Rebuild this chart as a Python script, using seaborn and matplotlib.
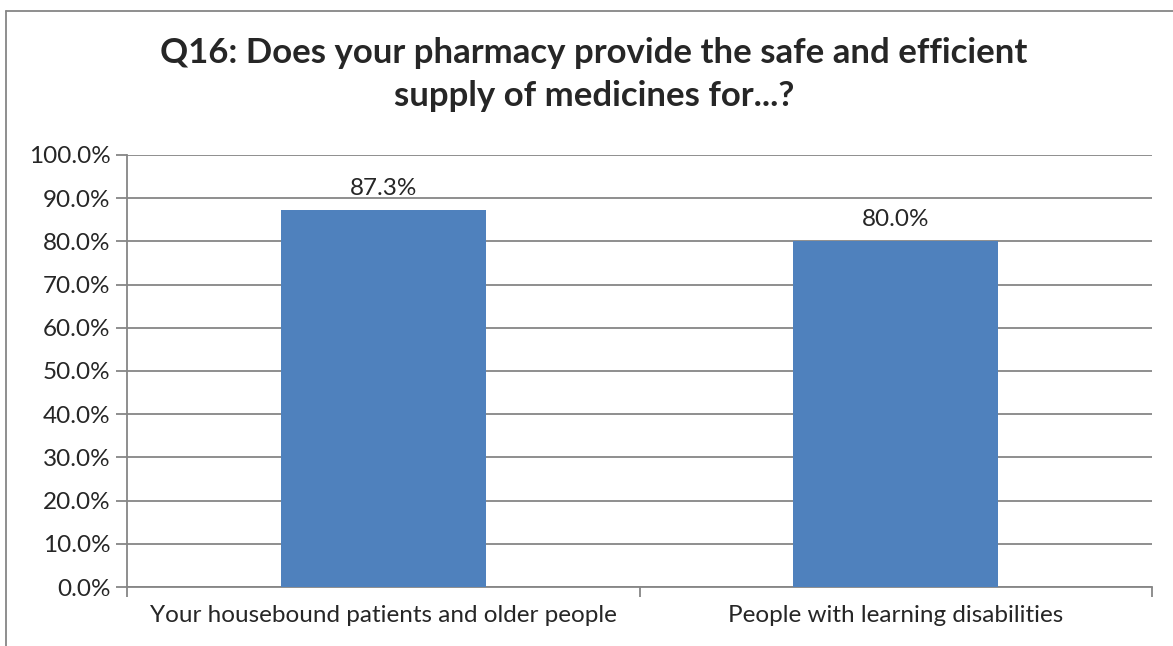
import numpy as np
import pandas as pd
import seaborn as sns
import matplotlib.pyplot as plt
from matplotlib.lines import Line2D
from matplotlib.ticker import FuncFormatter, FixedLocator

groups = ['Your housebound patients and older people', 'People with learning disabilities']
pct = [87.3, 80.0]
yticks = [0, 10, 20, 30, 40, 50, 60, 70, 80, 90, 100]
title = 'Q16: Does your pharmacy provide the safe and efficient\nsupply of medicines for...?'

df = pd.DataFrame({'group': groups, 'pct': pct})

sns.set_style("white")
plt.rcParams['font.family'] = ['Lato', 'DejaVu Sans']

fig = plt.figure(figsize=(11.73, 6.46), dpi=100)
ax = fig.add_axes([0.1083, 0.0913, 0.8738, 0.6688])

sns.barplot(data=df, x='group', y='pct', color='#4F81BD', width=0.4, saturation=1,
            linewidth=0, ax=ax, zorder=3)

ax.set_ylim(0, 100)
ax.set_xlim(-0.5, 1.5)
ax.set_yticks(yticks)
ax.yaxis.set_major_formatter(FuncFormatter(lambda v, p: f'{v:.1f}%'))
ax.yaxis.grid(True, color='#868686', linewidth=1.3, zorder=0)
ax.set_axisbelow(True)
ax.tick_params(axis='y', length=8, width=1.3, color='#868686', labelsize=17.5, pad=4, left=True)
ax.tick_params(axis='x', which='major', length=0, labelsize=17.5, pad=13)
ax.xaxis.set_minor_locator(FixedLocator([-0.5, 0.5, 1.5]))
ax.tick_params(axis='x', which='minor', length=7, width=1.3, color='#868686', bottom=True)
ax.set_xlabel('')
ax.set_ylabel('')

for s in ['top', 'right']:
    ax.spines[s].set_visible(False)
for s in ['left', 'bottom']:
    ax.spines[s].set_color('#868686')
    ax.spines[s].set_linewidth(1.3)

for i, v in enumerate(pct):
    ax.annotate(f'{v:.1f}%', (i, v), xytext=(0, 8), textcoords='offset points',
                ha='center', va='bottom', fontsize=17.5)

fig.text(0.5065, 0.8847, title, ha='center', va='center', fontsize=25,
         fontweight='bold', linespacing=1.4)

# chart frame (cropped at right and bottom)
fx, fy = 5.5 / 1173, 1 - 10.5 / 646
fig.add_artist(Line2D([fx, fx], [0, fy], color='#868686', linewidth=1.3))
fig.add_artist(Line2D([fx, 1], [fy, fy], color='#868686', linewidth=1.3))

fig.savefig('out.png', dpi=100)
